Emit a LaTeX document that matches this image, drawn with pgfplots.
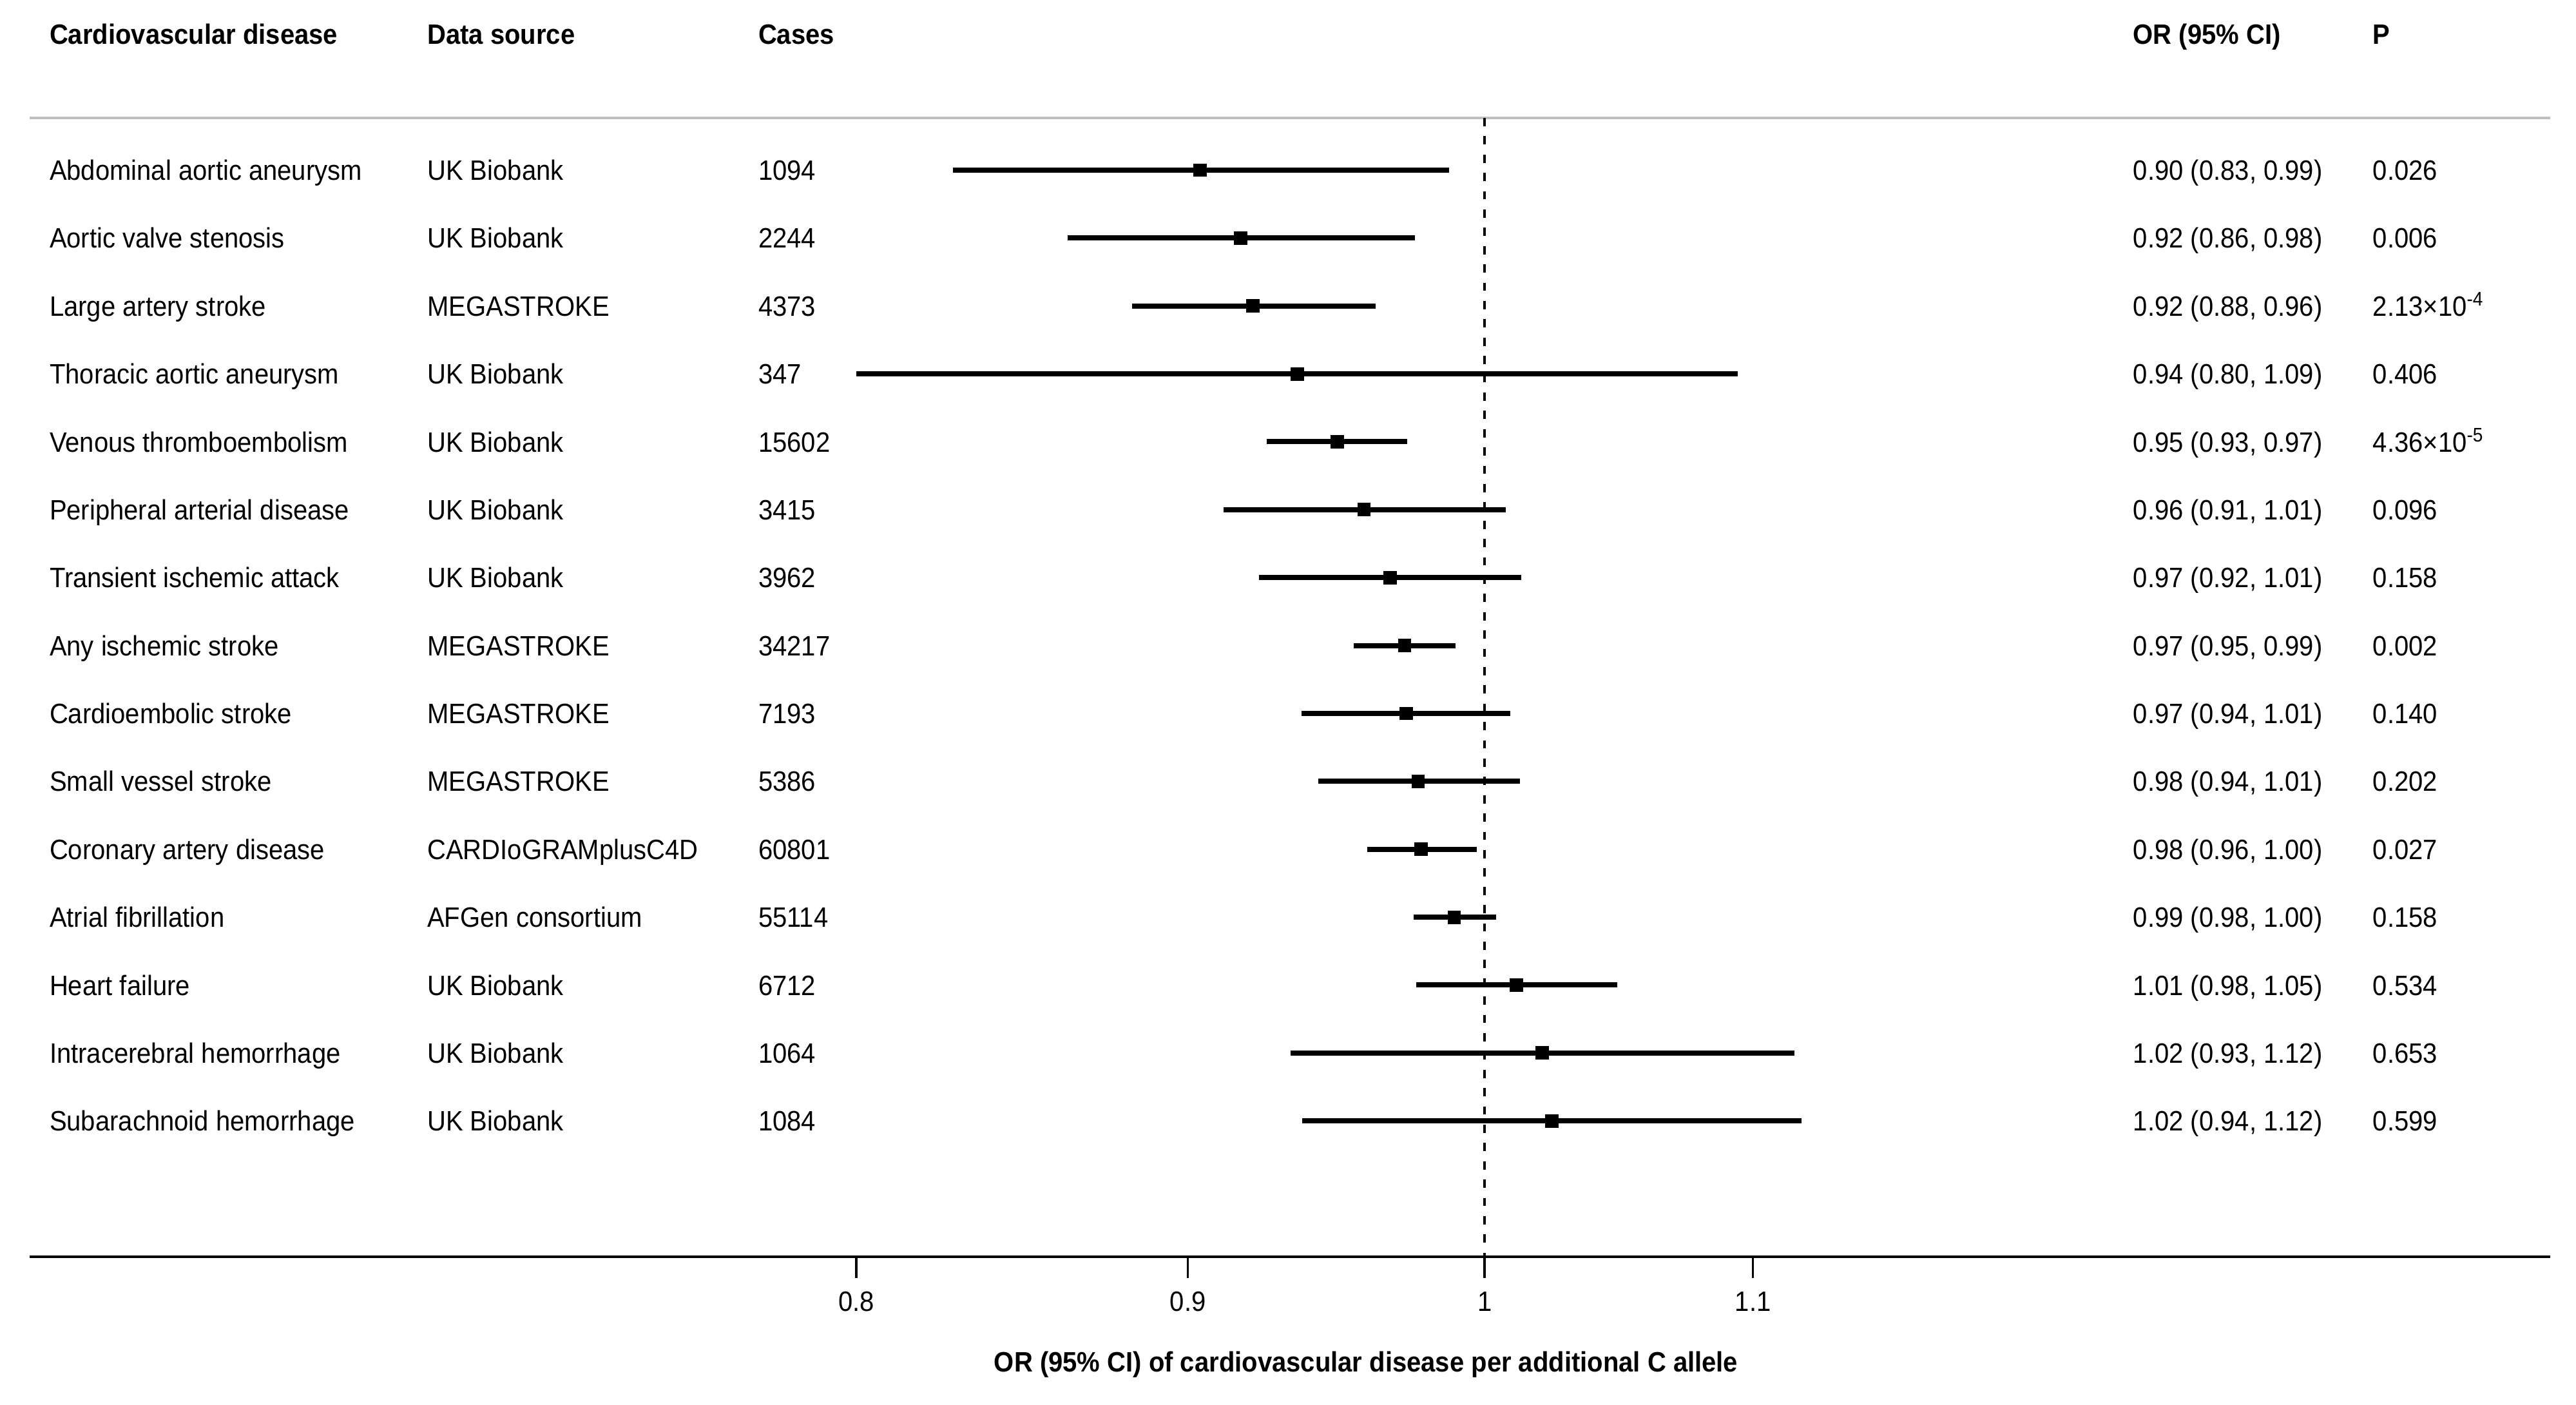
\documentclass[border=0pt]{standalone}
\usepackage{fontspec}
\setmainfont{Liberation Sans}[FakeStretch=0.92]
\usepackage{pgfplots}
\usepackage{pgfplotstable}
\pgfplotsset{compat=1.18}

% p value in a x 10^b form
\protected\def\sci#1#2{#1×10\textsuperscript{#2}}

\pgfplotstableread[col sep=semicolon]{
row;or;lo;hi;name;src;cases;ci;p
1;0.904;0.828;0.9875;Abdominal aortic aneurysm;UK Biobank;1094;0.90 (0.83, 0.99);0.026
2;0.917;0.8624;0.9756;Aortic valve stenosis;UK Biobank;2244;0.92 (0.86, 0.98);0.006
3;0.921;0.8824;0.962;Large artery stroke;MEGASTROKE;4373;0.92 (0.88, 0.96);\sci{2.13}{-4}
4;0.9356;0.80;1.094;Thoracic aortic aneurysm;UK Biobank;347;0.94 (0.80, 1.09);0.406
5;0.9491;0.9256;0.9729;Venous thromboembolism;UK Biobank;15602;0.95 (0.93, 0.97);\sci{4.36}{-5}
6;0.9581;0.9115;1.0076;Peripheral arterial disease;UK Biobank;3415;0.96 (0.91, 1.01);0.096
7;0.967;0.923;1.0131;Transient ischemic attack;UK Biobank;3962;0.97 (0.92, 1.01);0.158
8;0.972;0.9546;0.9898;Any ischemic stroke;MEGASTROKE;34217;0.97 (0.95, 0.99);0.002
9;0.9725;0.937;1.0092;Cardioembolic stroke;MEGASTROKE;7193;0.97 (0.94, 1.01);0.140
10;0.9767;0.9427;1.0127;Small vessel stroke;MEGASTROKE;5386;0.98 (0.94, 1.01);0.202
11;0.9776;0.9591;0.9973;Coronary artery disease;CARDIoGRAMplusC4D;60801;0.98 (0.96, 1.00);0.027
12;0.9893;0.9751;1.004;Atrial fibrillation;AFGen consortium;55114;0.99 (0.98, 1.00);0.158
13;1.0113;0.976;1.0483;Heart failure;UK Biobank;6712;1.01 (0.98, 1.05);0.534
14;1.0206;0.9335;1.1163;Intracerebral hemorrhage;UK Biobank;1064;1.02 (0.93, 1.12);0.653
15;1.0241;0.9374;1.1191;Subarachnoid hemorrhage;UK Biobank;1084;1.02 (0.94, 1.12);0.599
}\data

\pgfplotsset{
    txtcol/.style={
        only marks, mark=none,
        nodes near coords,
        point meta=explicit symbolic,
        every node near coord/.append style={anchor=base west, inner sep=0pt, yshift=-3.9pt, black},
    },
}
\tikzset{
    colhead/.style={font=\bfseries, anchor=base west, inner sep=0pt, yshift=-3.9pt},
}

\begin{document}
\fontsize{10.875pt}{13pt}\selectfont
\begin{tikzpicture}
\begin{axis}[
    name=ax,
    at={(0,0)}, anchor=south west,
    scale only axis,
    width=978pt, height=487.35pt,
    xmode=log,
    xmin=0.59654, xmax=1.4600,
    ymin=-17, ymax=1.5,
    axis y line=none,
    ytick=\empty,
    axis x line=bottom,
    x axis line style={line width=1.2pt, -},
    xtick pos=bottom,
    xtick={0.8,0.9,1,1.1},
    xticklabels={0.8,0.9,1,1.1},
    xminorticks=false,
    tick align=outside,
    major tick length=8.25pt,
    xtick style={line width=0.85pt, black},
    /pgf/number format/assume math mode=true,
    xticklabel style={anchor=center, inner sep=0pt, yshift=-9.25pt},
    xlabel={\bfseries OR (95\% CI) of cardiovascular disease per additional C allele},
    xlabel style={at={(axis description cs:0.5302,0)}, anchor=center, inner sep=0pt, yshift=-41.75pt},
    clip=false,
]
    % header rule and null line
    \draw[black!25, line width=1pt] (axis cs:0.59654,-0.2312) -- (axis cs:1.46,-0.2312);
    \draw[dash pattern=on 3.2pt off 3.9pt, line width=1pt] (axis cs:1,-0.2312) -- (axis cs:1,-17);

    % column headers
    \node[colhead] at (axis cs:0.6007,1) {Cardiovascular disease};
    \node[colhead] at (axis cs:0.6869,1) {Data source};
    \node[colhead] at (axis cs:0.7727,1) {Cases};
    \node[colhead] at (axis cs:1.2588,1) {OR (95\% CI)};
    \node[colhead] at (axis cs:1.3706,1) {P};

    % odds ratios with 95% CI
    \addplot[black, only marks, mark=square*, mark size=2.4pt,
        mark options={line width=0.4pt, fill=black},
        error bars/.cd, x dir=both, x explicit, error mark=none,
        error bar style={line width=2pt, black}]
        table[x=or, y expr=-\thisrow{row},
              x error plus expr=\thisrow{hi}-\thisrow{or},
              x error minus expr=\thisrow{or}-\thisrow{lo}] {\data};

    % text columns
    \addplot[txtcol] table[x expr=0.6007, y expr=-\thisrow{row}, meta=name] {\data};
    \addplot[txtcol] table[x expr=0.6869, y expr=-\thisrow{row}, meta=src] {\data};
    \addplot[txtcol] table[x expr=0.7727, y expr=-\thisrow{row}, meta=cases] {\data};
    \addplot[txtcol] table[x expr=1.2588, y expr=-\thisrow{row}, meta=ci] {\data};
    \addplot[txtcol] table[x expr=1.3706, y expr=-\thisrow{row}, meta=p] {\data};
\end{axis}
\pgfresetboundingbox
\path[use as bounding box] ([shift={(-11.5pt,-57.5pt)}]ax.south west) rectangle ++(999.5pt,545pt);
\end{tikzpicture}
\end{document}
